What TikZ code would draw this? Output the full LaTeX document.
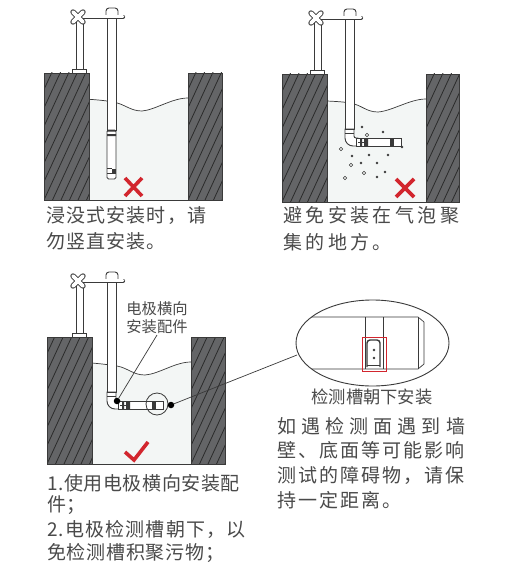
\documentclass[tikz,border=0pt]{standalone}
\usepackage{fontspec}
\usetikzlibrary{shapes.geometric}
\setmainfont{Noto Sans CJK SC}
\definecolor{walls}{HTML}{646567}
\definecolor{hatch}{HTML}{2B2B2B}
\definecolor{water}{HTML}{F3F6F5}
\definecolor{ink}{HTML}{3A3A3A}
\definecolor{txtc}{HTML}{4A4A4A}
\definecolor{rmark}{HTML}{D2262E}
\tikzset{
  body/.style={text=txtc,anchor=west,inner sep=0pt,font=\fontsize{19}{19}\selectfont},
  smalltxt/.style={text=txtc,anchor=center,inner sep=0pt},
  pipe/.style={draw=ink,line width=0.9pt,fill=white},
  leader/.style={draw=ink,line width=0.7pt},
  dotm/.style={circle,fill=black,inner sep=0pt,minimum size=6.5pt},
  redmark/.style={draw=rmark,line width=3.6pt},
}
\newcommand{\wallblock}[4]{%
  \begin{scope}
    \clip (#1,#2) rectangle (#3,#4);
    \fill[walls] (#1,#2) rectangle (#3,#4);
    \foreach \k in {-6,...,30}{
      \draw[hatch,line width=0.8pt] ({#1+\k*8.5},#4) -- ({#1+\k*8.5+60},#4-130);
    }
  \end{scope}
  \draw[ink,line width=0.8pt] (#1,#2) rectangle (#3,#4);
}
\newcommand{\mast}[1]{%
  \draw[pipe] (76,20) rectangle (83,73);
  \draw[pipe] (72,69) rectangle (86,73);
  \draw[pipe] (107,14) rectangle (116,#1);
  \draw[pipe,rounded corners=3pt] (106,15) -- (106,8) -- (118,8) -- (118,15);
  \draw[ink,line width=4.2pt,line cap=round] (80,16.7) -- (123,16.7);
  \draw[white,line width=2.6pt,line cap=round] (80,16.7) -- (123,16.7);
  \draw[ink,line width=5.4pt,line cap=round] (73,12) -- (83,22) (73,22) -- (83,12);
  \draw[white,line width=3.8pt,line cap=round] (73,12) -- (83,22) (73,22) -- (83,12);
}
\newcommand{\elbow}{%
  \draw[pipe,fill=white] (107,128) -- (107,137) arc[start angle=180,end angle=90,radius=8] -- (120,145) -- (120,137) -- (118,137) arc[start angle=90,end angle=180,radius=2] -- (116,128) -- cycle;
  \draw[ink,line width=1pt] (107,128.5) -- (116,128.5) (107,132) -- (116,132);
  \draw[pipe] (118,137) rectangle (163,145);
  \fill[ink] (122,137) rectangle (124,145) (126,137) rectangle (130,145);
  \fill[ink] (152,138) rectangle (156,145);
  \draw[ink,line width=0.6pt] (120,141) -- (126,141);
}
\begin{document}
\begin{tikzpicture}[x=1pt,y=-1pt]
\useasboundingbox (0,0) rectangle (507,575);
\fill[white] (0,0) rectangle (507,575);
% panel 1
\fill[water] (89,99.3) .. controls (100,100) and (108,101) .. (113,102) .. controls (125,104) and (130,111) .. (142,111) .. controls (155,110) and (172,98) .. (188,98) -- (188,200) -- (89,200) -- cycle;
\draw[ink,line width=0.7pt] (89,99.3) .. controls (100,100) and (108,101) .. (113,102) .. controls (125,104) and (130,111) .. (142,111) .. controls (155,110) and (172,98) .. (188,98);
\wallblock{44}{73}{89}{200}
\wallblock{188}{73}{222}{200}
\draw[ink,line width=0.8pt] (89,200) -- (188,200);
\mast{130}
\draw[pipe,rounded corners=1.5pt] (107,130) rectangle (116,179);
\fill[ink] (107,130) rectangle (116,131.5) (107,134) rectangle (116,136);
\fill[ink] (112,168.5) rectangle (116,172.5);
\draw[ink,line width=0.6pt] (107,168) -- (112,168) (107,173) -- (116,173);
\draw[redmark] (125,178) -- (142,196) (142,178) -- (125,196);
\node[body] (t1a) at (46,216) {\addfontfeature{LetterSpace=6}浸没式安装时，请};
\node[body] (t1b) at (46,241) {\addfontfeature{LetterSpace=6}勿竖直安装。};
% panel 2
\fill[water] (327,101) .. controls (337,101.5) and (345,102) .. (350,103) .. controls (362,105) and (366,112) .. (378,112) .. controls (392,111) and (410,99) .. (426,99) -- (426,202) -- (327,202) -- cycle;
\draw[ink,line width=0.7pt] (327,101) .. controls (337,101.5) and (345,102) .. (350,103) .. controls (362,105) and (366,112) .. (378,112) .. controls (392,111) and (410,99) .. (426,99);
\wallblock{282}{74}{327}{202}
\wallblock{426}{74}{459}{202}
\draw[ink,line width=0.8pt] (327,202) -- (426,202);
\begin{scope}[shift={(238,1)}]
\mast{128}
\elbow
\end{scope}
\foreach \bx/\by in {362/127,383/132,402/147,352/156,369/155,388/155,361/163,377/163,385/172,377/177}{
  \fill[ink] (\bx,\by) circle (1.4);
}
\foreach \bx/\by in {367/135,341/149,351/165,364/173,345/178}{
  \draw[ink,line width=0.6pt,fill=water] (\bx,\by) circle (1.7);
}
\draw[redmark] (396,179) -- (414,197) (414,179) -- (396,197);
\node[body] (t2a) at (283,215) {\addfontfeature{LetterSpace=18}避免安装在气泡聚};
\node[body] (t2b) at (283,242) {\addfontfeature{LetterSpace=18}集的地方。};
% panel 3
\fill[water] (92,363) .. controls (103,364) and (111,365) .. (117,366) .. controls (128,368) and (133,375) .. (145,375) .. controls (159,374) and (175,362) .. (191,362) -- (191,464) -- (92,464) -- cycle;
\draw[ink,line width=0.7pt] (92,363) .. controls (103,364) and (111,365) .. (117,366) .. controls (128,368) and (133,375) .. (145,375) .. controls (159,374) and (175,362) .. (191,362);
\wallblock{47}{337}{92}{464}
\wallblock{191}{337}{225}{464}
\draw[ink,line width=0.8pt] (92,464) -- (191,464);
\begin{scope}[shift={(0,264)}]
\mast{128}
\elbow
\end{scope}
\node[draw=ink,line width=0.8pt,circle,minimum size=22pt,inner sep=0pt] (lens) at (157,404) {};
\node[dotm] (dota) at (117,401) {};
\node[dotm] (dotb) at (171,405) {};
\coordinate (laba) at (157,335);
\draw[leader] (dota) -- (laba);
\draw[rmark,line width=3.6pt] (125,452) -- (134,460) -- (148,442);
\node[smalltxt,font=\fontsize{15.3}{15.3}\selectfont] (la1) at (157,309) {电极横向};
\node[smalltxt,font=\fontsize{15.3}{15.3}\selectfont] (la2) at (157,327) {安装配件};
% magnified ellipse
\node[draw=ink,line width=0.9pt,ellipse,minimum width=153pt,minimum height=86pt,inner sep=0pt] (zoomell) at (372.5,343) {};
\coordinate (ellend) at (297,355);
\draw[leader] (dotb) -- (ellend);
\begin{scope}
  \clip (372.5,343) ellipse [x radius=76.5,y radius=43];
  \draw[ink,line width=0.7pt] (290,317) -- (418,317) -- (424,322) -- (424,364) -- (418,369) -- (290,369);
  \draw[ink,line width=0.7pt] (418,317) -- (418,369);
  \draw[ink,line width=0.7pt] (365,317) -- (365,369) (383,317) -- (383,369);
\end{scope}
\draw[ink,line width=1.4pt,rounded corners=3pt] (367,367) -- (367,340) -- (380,340) -- (380,367);
\draw[ink,line width=0.6pt] (367,365) -- (380,365);
\fill[ink] (374,350) circle (1.3) (374,358) circle (1.3);
\draw[rmark,line width=0.9pt] (362,337) rectangle (386,371);
\node[smalltxt,font=\fontsize{17.3}{17.3}\selectfont] (lb) at (372,397) {检测槽朝下安装};
% paragraphs
\node[body] (p1) at (277,426) {\addfontfeature{LetterSpace=27}如遇检测面遇到墙};
\node[body] (p2) at (277,450) {\addfontfeature{LetterSpace=11}壁、底面等可能影响};
\node[body] (p3) at (277,475) {\addfontfeature{LetterSpace=11}测试的障碍物，请保};
\node[body] (p4) at (277,500) {\addfontfeature{LetterSpace=11}持一定距离。};
\node[body] (q1) at (47,483) {\addfontfeature{LetterSpace=3}1.使用电极横向安装配};
\node[body] (q2) at (47,505) {\addfontfeature{LetterSpace=3}件；};
\node[body] (q3) at (47,529) {\addfontfeature{LetterSpace=6}2.电极检测槽朝下，以};
\node[body] (q4) at (47,553) {\addfontfeature{LetterSpace=4}免检测槽积聚污物；};
\end{tikzpicture}
\end{document}
